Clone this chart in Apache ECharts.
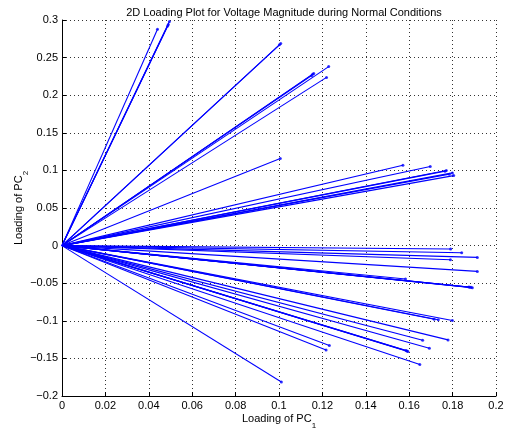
<!DOCTYPE html>
<html>
<head>
<meta charset="utf-8">
<script src="https://cdn.jsdelivr.net/npm/echarts@6/dist/echarts.min.js"></script>
<style>
  html, body { margin: 0; padding: 0; background: #fff; }
  #chart { width: 507px; height: 432px; }
</style>
</head>
<body>
<div id="chart"></div>
<script>
// Loadings on the first principal component (PC1) for each bus voltage
const pc1Loadings = [
  0.0440, 0.0495, 0.0490, 0.0487,
  0.1008, 0.1002,
  0.1155, 0.1160, 0.1150, 0.1229, 0.1219,
  0.1006,
  0.1571, 0.1697, 0.1771, 0.1765, 0.1799, 0.1805, 0.1785,
  0.1791, 0.1842, 0.1914, 0.1790, 0.1914,
  0.1583, 0.1885, 0.1891, 0.1875, 0.1880,
  0.1734, 0.1715, 0.1799, 0.1779, 0.1662, 0.1693,
  0.1594, 0.1590, 0.1585,
  0.1232, 0.1217, 0.1649, 0.1011
];
// Loadings on the second principal component (PC2), same order
const pc2Loadings = [
  0.2876, 0.2980, 0.2940, 0.2920,
  0.2686, 0.2670,
  0.2277, 0.2290, 0.2260, 0.2380, 0.2237,
  0.1158,
  0.1069, 0.1051, 0.0998, 0.0990, 0.0967, 0.0931, 0.0950,
  -0.0046, -0.0095, -0.0157, -0.0188, -0.0343,
  -0.0445, -0.0555, -0.0561, -0.0550, -0.0553,
  -0.0987, -0.0980, -0.0996, -0.1254, -0.1258, -0.1364,
  -0.1409, -0.1400, -0.1395,
  -0.1329, -0.1387, -0.1582, -0.1813
];
const xTicks = { min: 0, max: 0.2, step: 0.02 };
const yTicks = { min: -0.2, max: 0.3, step: 0.05 };

const BLUE = '#0000ff';
const FONT = '"Liberation Sans", Arial, Helvetica, sans-serif';

function tickText(v) {
  const s = String(parseFloat(v.toFixed(3)));
  return s.replace('-', '\u2212');
}

// One segment from the origin to each loading vector
const vectorSeries = pc1Loadings.map((x, i) => ({
  type: 'line',
  data: [[0, 0], [x, pc2Loadings[i]]],
  showSymbol: false,
  symbol: 'none',
  silent: true,
  animation: false,
  lineStyle: { color: BLUE, width: 1.1 },
  z: 3
}));

// Dot marker at the tip of each vector
const tipSeries = {
  type: 'scatter',
  data: pc1Loadings.map((x, i) => [x, pc2Loadings[i]]),
  symbol: 'circle',
  symbolSize: 3,
  itemStyle: { color: BLUE },
  silent: true,
  animation: false,
  z: 4
};

const chart = echarts.init(document.getElementById('chart'), null, { renderer: 'canvas' });
chart.setOption({
  backgroundColor: '#fff',
  animation: false,
  title: {
    text: '2D Loading Plot for Voltage Magnitude during Normal Conditions',
    left: 279, top: 2,
    textAlign: 'center',
    textStyle: { fontFamily: FONT, fontSize: 11, fontWeight: 'normal', color: '#000' }
  },
  grid: { left: 62, right: 11, top: 20, bottom: 36, containLabel: false, outerBoundsMode: 'none' },
  xAxis: {
    type: 'value',
    min: xTicks.min, max: xTicks.max, interval: xTicks.step,
    name: 'Loading of PC{sub|1}',
    nameLocation: 'middle',
    nameGap: 17,
    nameMoveOverlap: false,
    nameTextStyle: {
      fontFamily: FONT, fontSize: 11, color: '#000',
      rich: { sub: { fontFamily: FONT, fontSize: 8, color: '#000', verticalAlign: 'bottom', padding: [0, 0, -6, 0] } }
    },
    axisLine: { show: true, onZero: false, lineStyle: { color: '#000', width: 1 } },
    axisTick: { show: true, inside: true, length: 4, lineStyle: { color: '#000' } },
    axisLabel: { formatter: tickText, fontFamily: FONT, fontSize: 11, color: '#000', margin: 4 },
    splitLine: { show: true, lineStyle: { color: '#333', type: [1, 3], width: 1 } }
  },
  yAxis: {
    type: 'value',
    min: yTicks.min, max: yTicks.max, interval: yTicks.step,
    name: 'Loading of PC{sub|2}',
    nameLocation: 'middle',
    nameGap: 38,
    nameRotate: 90,
    nameMoveOverlap: false,
    nameTextStyle: {
      fontFamily: FONT, fontSize: 11, color: '#000',
      rich: { sub: { fontFamily: FONT, fontSize: 8, color: '#000', verticalAlign: 'bottom', padding: [0, 0, -6, 0] } }
    },
    axisLine: { show: true, onZero: false, lineStyle: { color: '#000', width: 1 } },
    axisTick: { show: true, inside: true, length: 4, lineStyle: { color: '#000' } },
    axisLabel: { formatter: tickText, fontFamily: FONT, fontSize: 11, color: '#000', margin: 4 },
    splitLine: { show: true, lineStyle: { color: '#333', type: [1, 3], width: 1 } }
  },
  series: vectorSeries.concat([tipSeries])
});
</script>
</body>
</html>
